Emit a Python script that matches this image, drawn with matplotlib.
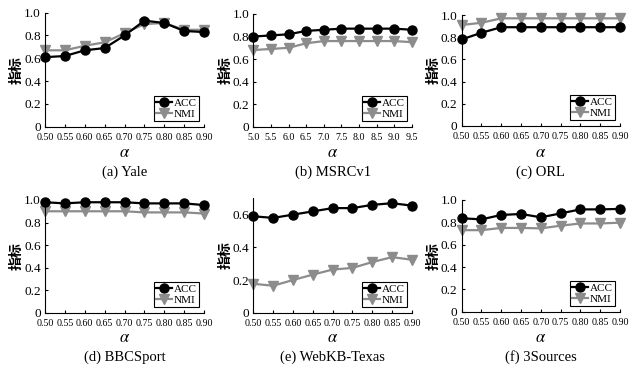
import numpy as np
import matplotlib
matplotlib.use("Agg")
import matplotlib.pyplot as plt

plt.rcParams["font.family"] = ["Liberation Serif", "Noto Sans CJK SC"]
plt.rcParams["mathtext.fontset"] = "stix"

# 横轴参数
alpha_std = [0.50, 0.55, 0.60, 0.65, 0.70, 0.75, 0.80, 0.85, 0.90]
alpha_msrc = [5.0, 5.5, 6.0, 6.5, 7.0, 7.5, 8.0, 8.5, 9.0, 9.5]

# 各数据集 ACC / NMI
yale_acc = [0.61, 0.62, 0.67, 0.69, 0.80, 0.93, 0.91, 0.84, 0.83]
yale_nmi = [0.67, 0.67, 0.71, 0.74, 0.82, 0.90, 0.91, 0.85, 0.85]
msrc_acc = [0.80, 0.81, 0.82, 0.85, 0.86, 0.87, 0.87, 0.87, 0.87, 0.86]
msrc_nmi = [0.68, 0.69, 0.70, 0.74, 0.76, 0.76, 0.76, 0.76, 0.76, 0.75]
orl_acc = [0.78, 0.84, 0.89, 0.89, 0.89, 0.89, 0.89, 0.89, 0.89]
orl_nmi = [0.91, 0.93, 0.97, 0.97, 0.97, 0.97, 0.97, 0.97, 0.97]
bbc_acc = [0.98, 0.97, 0.98, 0.98, 0.98, 0.97, 0.97, 0.97, 0.955]
bbc_nmi = [0.90, 0.90, 0.90, 0.90, 0.90, 0.89, 0.89, 0.89, 0.88]
texas_acc = [0.59, 0.58, 0.60, 0.62, 0.64, 0.64, 0.66, 0.67, 0.655]
texas_nmi = [0.177, 0.165, 0.20, 0.233, 0.264, 0.274, 0.31, 0.34, 0.324]
src3_acc = [0.836, 0.827, 0.866, 0.875, 0.845, 0.88, 0.916, 0.916, 0.92]
src3_nmi = [0.73, 0.73, 0.75, 0.75, 0.746, 0.77, 0.79, 0.79, 0.797]

titles = ["(a) Yale", "(b) MSRCv1", "(c) ORL", "(d) BBCSport", "(e) WebKB-Texas", "(f) 3Sources"]

W, H = 632, 373


def px_axes(fig, left, top, right, bottom):
    return fig.add_axes([left / W, 1 - bottom / H, (right - left) / W, (bottom - top) / H])


def draw_panel(ax, x, acc, nmi, xlabels, ymax, yticks):
    ax.plot(x, acc, color="black", lw=1.6, marker="o", ms=6.5, label="ACC", clip_on=False, zorder=3)
    ax.plot(x, nmi, color="#8c8c8c", lw=1.6, marker="v", ms=6.5, label="NMI", clip_on=False, zorder=2)
    ax.set_xlim(x[0], x[-1])
    ax.set_ylim(0, ymax)
    ax.set_xticks(x)
    ax.set_xticklabels(xlabels, fontsize=7.2)
    ax.set_yticks(yticks)
    ax.set_yticklabels(["0" if v == 0 else f"{v:.1f}" for v in yticks], fontsize=9.5)
    ax.spines["top"].set_visible(False)
    ax.spines["right"].set_visible(False)
    ax.tick_params(direction="in", length=2.5)
    ax.tick_params(axis="x", pad=4.5)
    ax.tick_params(axis="y", pad=3)
    ax.set_ylabel("指标", family="Noto Sans CJK SC", fontsize=10, fontweight="bold", labelpad=0)
    leg = ax.legend(loc="lower right", bbox_to_anchor=(0.97, 0.05), fontsize=8,
                    handlelength=1.4, handletextpad=0.2, borderpad=0.2,
                    labelspacing=0.1, fancybox=False, framealpha=1, borderaxespad=0)
    leg.get_frame().set_edgecolor("black")
    leg.get_frame().set_linewidth(0.8)


fig = plt.figure(figsize=(W / 100, H / 100), dpi=100)

boxes = [
    (45, 12.7, 204, 126.7),
    (253.3, 14, 412, 126.7),
    (461.7, 15, 620, 126),
    (45, 200, 204, 312.7),
    (253.3, 198.3, 412, 312.7),
    (461.7, 200, 620, 311.7),
]

std_labels = [f"{v:.2f}" for v in alpha_std]
msrc_labels = [f"{v:.1f}" for v in alpha_msrc]
full_ticks = [0, 0.2, 0.4, 0.6, 0.8, 1.0]

panels = [
    (alpha_std, yale_acc, yale_nmi, std_labels, 1.0, full_ticks),
    (alpha_msrc, msrc_acc, msrc_nmi, msrc_labels, 1.0, full_ticks),
    (alpha_std, orl_acc, orl_nmi, std_labels, 1.0, full_ticks),
    (alpha_std, bbc_acc, bbc_nmi, std_labels, 1.0, full_ticks),
    (alpha_std, texas_acc, texas_nmi, std_labels, 0.7, [0, 0.2, 0.4, 0.6]),
    (alpha_std, src3_acc, src3_nmi, std_labels, 1.0, full_ticks),
]

for i, (box, p) in enumerate(zip(boxes, panels)):
    ax = px_axes(fig, *box)
    draw_panel(ax, *p)
    cx = (box[0] + box[2]) / 2 / W
    row_off = 0 if i < 3 else 185
    fig.text(cx, 1 - (153 + row_off) / H, r"$\alpha$", ha="center", va="center", fontsize=12)
    fig.text(cx, 1 - (172 + row_off) / H, titles[i], ha="center", va="center", fontsize=10.5)

fig.savefig("out.png", dpi=100)
